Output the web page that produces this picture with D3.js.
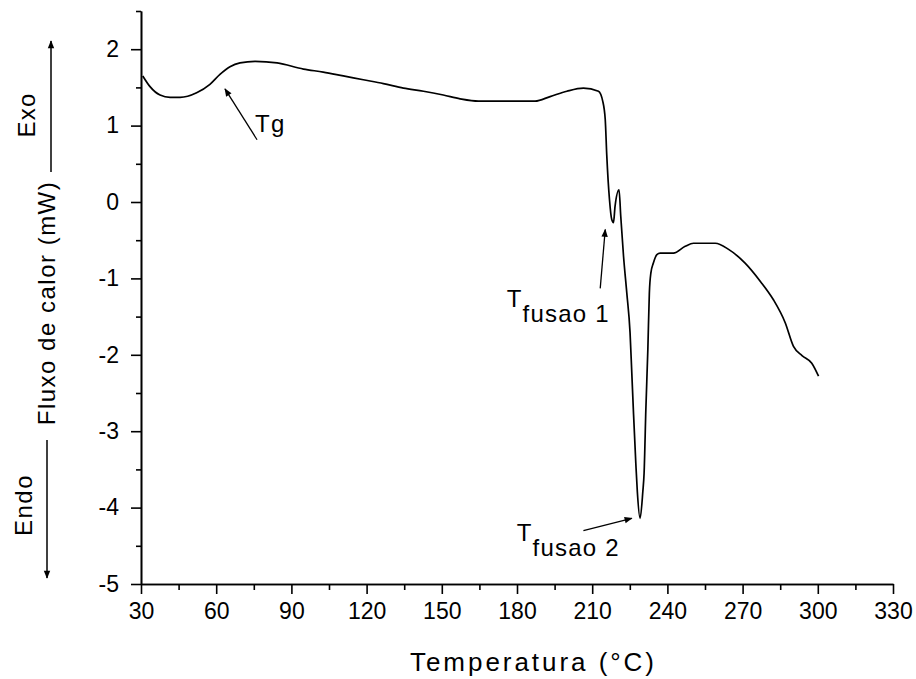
<!DOCTYPE html>
<html>
<head>
<meta charset="utf-8">
<script src="https://d3js.org/d3.v7.min.js"></script>
<style>
  body { margin: 0; background: #fff; }
  text { font-family: "Liberation Sans", Arial, sans-serif; fill: #000; }
  .axis path, .axis line { stroke: #000; stroke-width: 1.6; }
</style>
</head>
<body>
<script>
// DSC curve (temperature in C, heat flow in mW)
var temperature = [30.7, 33.6, 37.6, 41.6, 45.6, 52.2, 57.5, 61.5, 65.5, 69.5, 75.5, 84.3,
    94.8, 102.7, 110.7, 118.7, 126.7, 134.7, 142.7, 150.6, 157.3, 164.6, 187.2, 193.2, 199.9,
    206.5, 212.5, 214.2, 215.2, 215.8, 216.9, 217.8, 218.5, 219.1, 220.7, 221.4, 222.5, 223.8,
    225.1, 225.8, 226.5, 227.4, 228.0, 229.1, 230.2, 230.7, 231.4, 232.2, 232.8, 233.4, 234.4,
    235.8, 237.1, 242.4, 247.1, 250.4, 259.1, 264.4, 271.0, 277.1, 282.3, 287.0, 290.3, 293.7,
    297.6, 300.3];
var heatFlow = [1.65, 1.51, 1.40, 1.37, 1.37, 1.43, 1.54, 1.67, 1.77, 1.82, 1.84, 1.82,
    1.74, 1.70, 1.65, 1.60, 1.55, 1.49, 1.45, 1.40, 1.35, 1.32, 1.32, 1.38, 1.45,
    1.49, 1.45, 1.32, 1.08, 0.62, 0.03, -0.23, -0.27, -0.06, 0.16, -0.19, -0.71, -1.19,
    -1.71, -2.24, -2.78, -3.42, -3.79, -4.14, -3.79, -3.55, -2.72, -1.93, -1.19, -0.93, -0.80,
    -0.69, -0.67, -0.67, -0.58, -0.54, -0.54, -0.62, -0.80, -1.04, -1.28, -1.58, -1.89, -2.01,
    -2.11, -2.28];

var xTickValues = [30, 60, 90, 120, 150, 180, 210, 240, 270, 300, 330];
var xMinorTicks = [45, 75, 105, 135, 165, 195, 225, 255, 285, 315];
var yTickValues = [-5, -4, -3, -2, -1, 0, 1, 2];
var yMinorTicks = [-4.5, -3.5, -2.5, -1.5, -0.5, 0.5, 1.5, 2.5];

// annotations: label, sub, text anchor (t, v), arrow tail (t, v), arrow tip (t, v)
var annotationLabels = ["Tg", "T", "T"];
var annotationSubs = ["", "fusao 1", "fusao 2"];
var annotationText = [[75.5, 0.91], [175.9, -1.38], [179.9, -4.44]];
var annotationTail = [[76.3, 0.815], [213.2, -1.13], [206.5, -4.30]];
var annotationTip = [[63.5, 1.48], [215.2, -0.36], [225.8, -4.14]];

var outerWidth = 916, outerHeight = 679;
var margin = {top: 11, right: 23, bottom: 95, left: 141};
var width = outerWidth - margin.left - margin.right;
var height = outerHeight - margin.top - margin.bottom;

var svg = d3.select("body").append("svg")
    .attr("width", outerWidth)
    .attr("height", outerHeight);

svg.append("defs").append("marker")
    .attr("id", "head")
    .attr("viewBox", "0 0 10 10")
    .attr("refX", 9)
    .attr("refY", 5)
    .attr("markerUnits", "userSpaceOnUse")
    .attr("markerWidth", 11)
    .attr("markerHeight", 8)
    .attr("orient", "auto")
    .append("path")
    .attr("d", "M0,1 L10,5 L0,9 Z")
    .attr("fill", "#000");

var g = svg.append("g")
    .attr("transform", "translate(" + margin.left + "," + margin.top + ")");

var xScale = d3.scaleLinear().domain([30, 330]).range([0, width]);
var yScale = d3.scaleLinear().domain([-5, 2.5]).range([height, 0]);

// axes (major + minor ticks)
g.append("g")
    .attr("class", "axis")
    .attr("transform", "translate(0," + height + ")")
    .call(d3.axisBottom(xScale).tickValues(xMinorTicks).tickSize(6).tickSizeOuter(0).tickFormat(""));
var xAxis = g.append("g")
    .attr("class", "axis")
    .attr("transform", "translate(0," + height + ")")
    .call(d3.axisBottom(xScale).tickValues(xTickValues).tickSize(10).tickSizeOuter(0).tickPadding(9)
        .tickFormat(function(d) { return String(d); }));
xAxis.selectAll("text").attr("font-size", "23px").attr("font-family", null);

g.append("g")
    .attr("class", "axis")
    .call(d3.axisLeft(yScale).tickValues(yMinorTicks).tickSize(5).tickSizeOuter(0).tickFormat(""));
var yAxis = g.append("g")
    .attr("class", "axis")
    .call(d3.axisLeft(yScale).tickValues(yTickValues).tickSize(10).tickSizeOuter(0).tickPadding(12)
        .tickFormat(function(d) { return String(d); }));
yAxis.selectAll("text").attr("font-size", "23px").attr("font-family", null);

// curve
var points = temperature.map(function(t, i) { return [t, heatFlow[i]]; });
var line = d3.line()
    .x(function(d) { return xScale(d[0]); })
    .y(function(d) { return yScale(d[1]); })
    .curve(d3.curveMonotoneX);

g.append("path")
    .datum(points)
    .attr("d", line)
    .attr("fill", "none")
    .attr("stroke", "#000")
    .attr("stroke-width", 1.7);

// annotation arrows + labels
annotationLabels.forEach(function(label, i) {
    g.append("line")
        .attr("x1", xScale(annotationTail[i][0]))
        .attr("y1", yScale(annotationTail[i][1]))
        .attr("x2", xScale(annotationTip[i][0]))
        .attr("y2", yScale(annotationTip[i][1]))
        .attr("stroke", "#000")
        .attr("stroke-width", 1.3)
        .attr("marker-end", "url(#head)");

    var txt = g.append("text")
        .attr("x", xScale(annotationText[i][0]))
        .attr("y", yScale(annotationText[i][1]))
        .attr("font-size", "24px")
        .attr("letter-spacing", 1.2)
        .text(label);
    if (annotationSubs[i]) {
        txt.append("tspan")
            .attr("dy", 15)
            .text(annotationSubs[i]);
    }
});

// axis titles
svg.append("text")
    .attr("x", 532)
    .attr("y", 671)
    .attr("text-anchor", "middle")
    .attr("font-size", "26px")
    .attr("textLength", 244)
    .attr("lengthAdjust", "spacing")
    .text("Temperatura (°C)");

svg.append("text")
    .attr("transform", "translate(55,303) rotate(-90)")
    .attr("text-anchor", "middle")
    .attr("font-size", "24px")
    .attr("letter-spacing", 1.5)
    .text("Fluxo de calor (mW)");

svg.append("text")
    .attr("transform", "translate(35,115) rotate(-90)")
    .attr("text-anchor", "middle")
    .attr("font-size", "24px")
    .attr("letter-spacing", 1.2)
    .text("Exo");

svg.append("text")
    .attr("transform", "translate(32,505) rotate(-90)")
    .attr("text-anchor", "middle")
    .attr("font-size", "24px")
    .attr("letter-spacing", 1.5)
    .text("Endo");

// Exo / Endo arrows
svg.append("line")
    .attr("x1", 51).attr("y1", 172)
    .attr("x2", 51).attr("y2", 41)
    .attr("stroke", "#000").attr("stroke-width", 1.5)
    .attr("marker-end", "url(#head)");
svg.append("line")
    .attr("x1", 47).attr("y1", 440)
    .attr("x2", 47).attr("y2", 578)
    .attr("stroke", "#000").attr("stroke-width", 1.5)
    .attr("marker-end", "url(#head)");
</script>
</body>
</html>
